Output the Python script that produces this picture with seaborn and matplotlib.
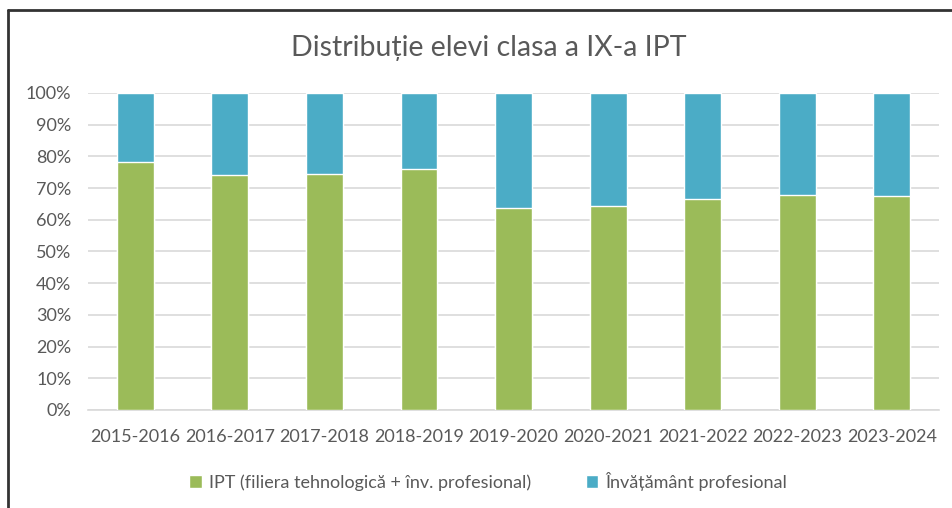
import pandas as pd
import numpy as np
import matplotlib.pyplot as plt
import seaborn as sns
from matplotlib.lines import Line2D
from matplotlib.patches import Patch

# Data (share of IPT students, %)
years = ['2015-2016', '2016-2017', '2017-2018', '2018-2019', '2019-2020',
         '2020-2021', '2021-2022', '2022-2023', '2023-2024']
ipt_share = [78.1, 74.0, 74.5, 76.0, 63.6, 64.4, 66.5, 67.9, 67.6]
prof_share = [100 - v for v in ipt_share]

labels = ['IPT (filiera tehnologică + înv. profesional)', 'Învățământ profesional']
green = '#9BBB59'
blue = '#4BACC6'
text_gray = '#595959'

df = pd.DataFrame({'an': years, 'ipt': ipt_share, 'prof': prof_share})
df['total'] = df['ipt'] + df['prof']

sns.set_style('white')
plt.rcParams['font.family'] = ['Lato', 'DejaVu Sans']

fig = plt.figure(figsize=(9.52, 5.08), dpi=100)
ax = fig.add_axes([0.0924, 0.193, 0.894, 0.624])

# stacked bars: full height in blue, then green on top of it
sns.barplot(data=df, x='an', y='total', color=blue, width=0.39,
            saturation=1, ax=ax, zorder=2)
sns.barplot(data=df, x='an', y='ipt', color=green, width=0.39,
            saturation=1, ax=ax, zorder=3)

ax.set_ylim(0, 100)
ax.set_xlim(-0.5, len(years) - 0.5)
ax.set_yticks(np.arange(0, 101, 10))
ax.set_yticklabels([f'{v}%' for v in range(0, 101, 10)])
ax.yaxis.grid(True, color='#D9D9D9', linewidth=1.2, zorder=0)
ax.set_axisbelow(True)
ax.set_xlabel('')
ax.set_ylabel('')
for s in ['top', 'right', 'left']:
    ax.spines[s].set_visible(False)
ax.spines['bottom'].set_color('#D9D9D9')
ax.spines['bottom'].set_linewidth(1.2)
ax.tick_params(axis='both', length=0, colors=text_gray, labelsize=13)
ax.tick_params(axis='x', pad=14)
ax.tick_params(axis='y', pad=12)

fig.text(0.513, 0.905, 'Distribuție elevi clasa a IX-a IPT', ha='center',
         va='center', fontsize=20.5, color=text_gray)

handles = [Patch(facecolor=green, label=labels[0]),
           Patch(facecolor=blue, label=labels[1])]
fig.legend(handles=handles, loc='center', bbox_to_anchor=(0.513, 0.053),
           ncol=2, frameon=False, fontsize=13, labelcolor=text_gray,
           handlelength=0.7, handleheight=0.7, handletextpad=0.4,
           columnspacing=3.0)

# dark frame on the top and left edges
fig.add_artist(Line2D([8 / 952, 1], [0.980, 0.980], color='#333333', linewidth=2))
fig.add_artist(Line2D([8 / 952, 8 / 952], [0, 0.980], color='#333333', linewidth=2))

fig.savefig('out.png', dpi=100)
